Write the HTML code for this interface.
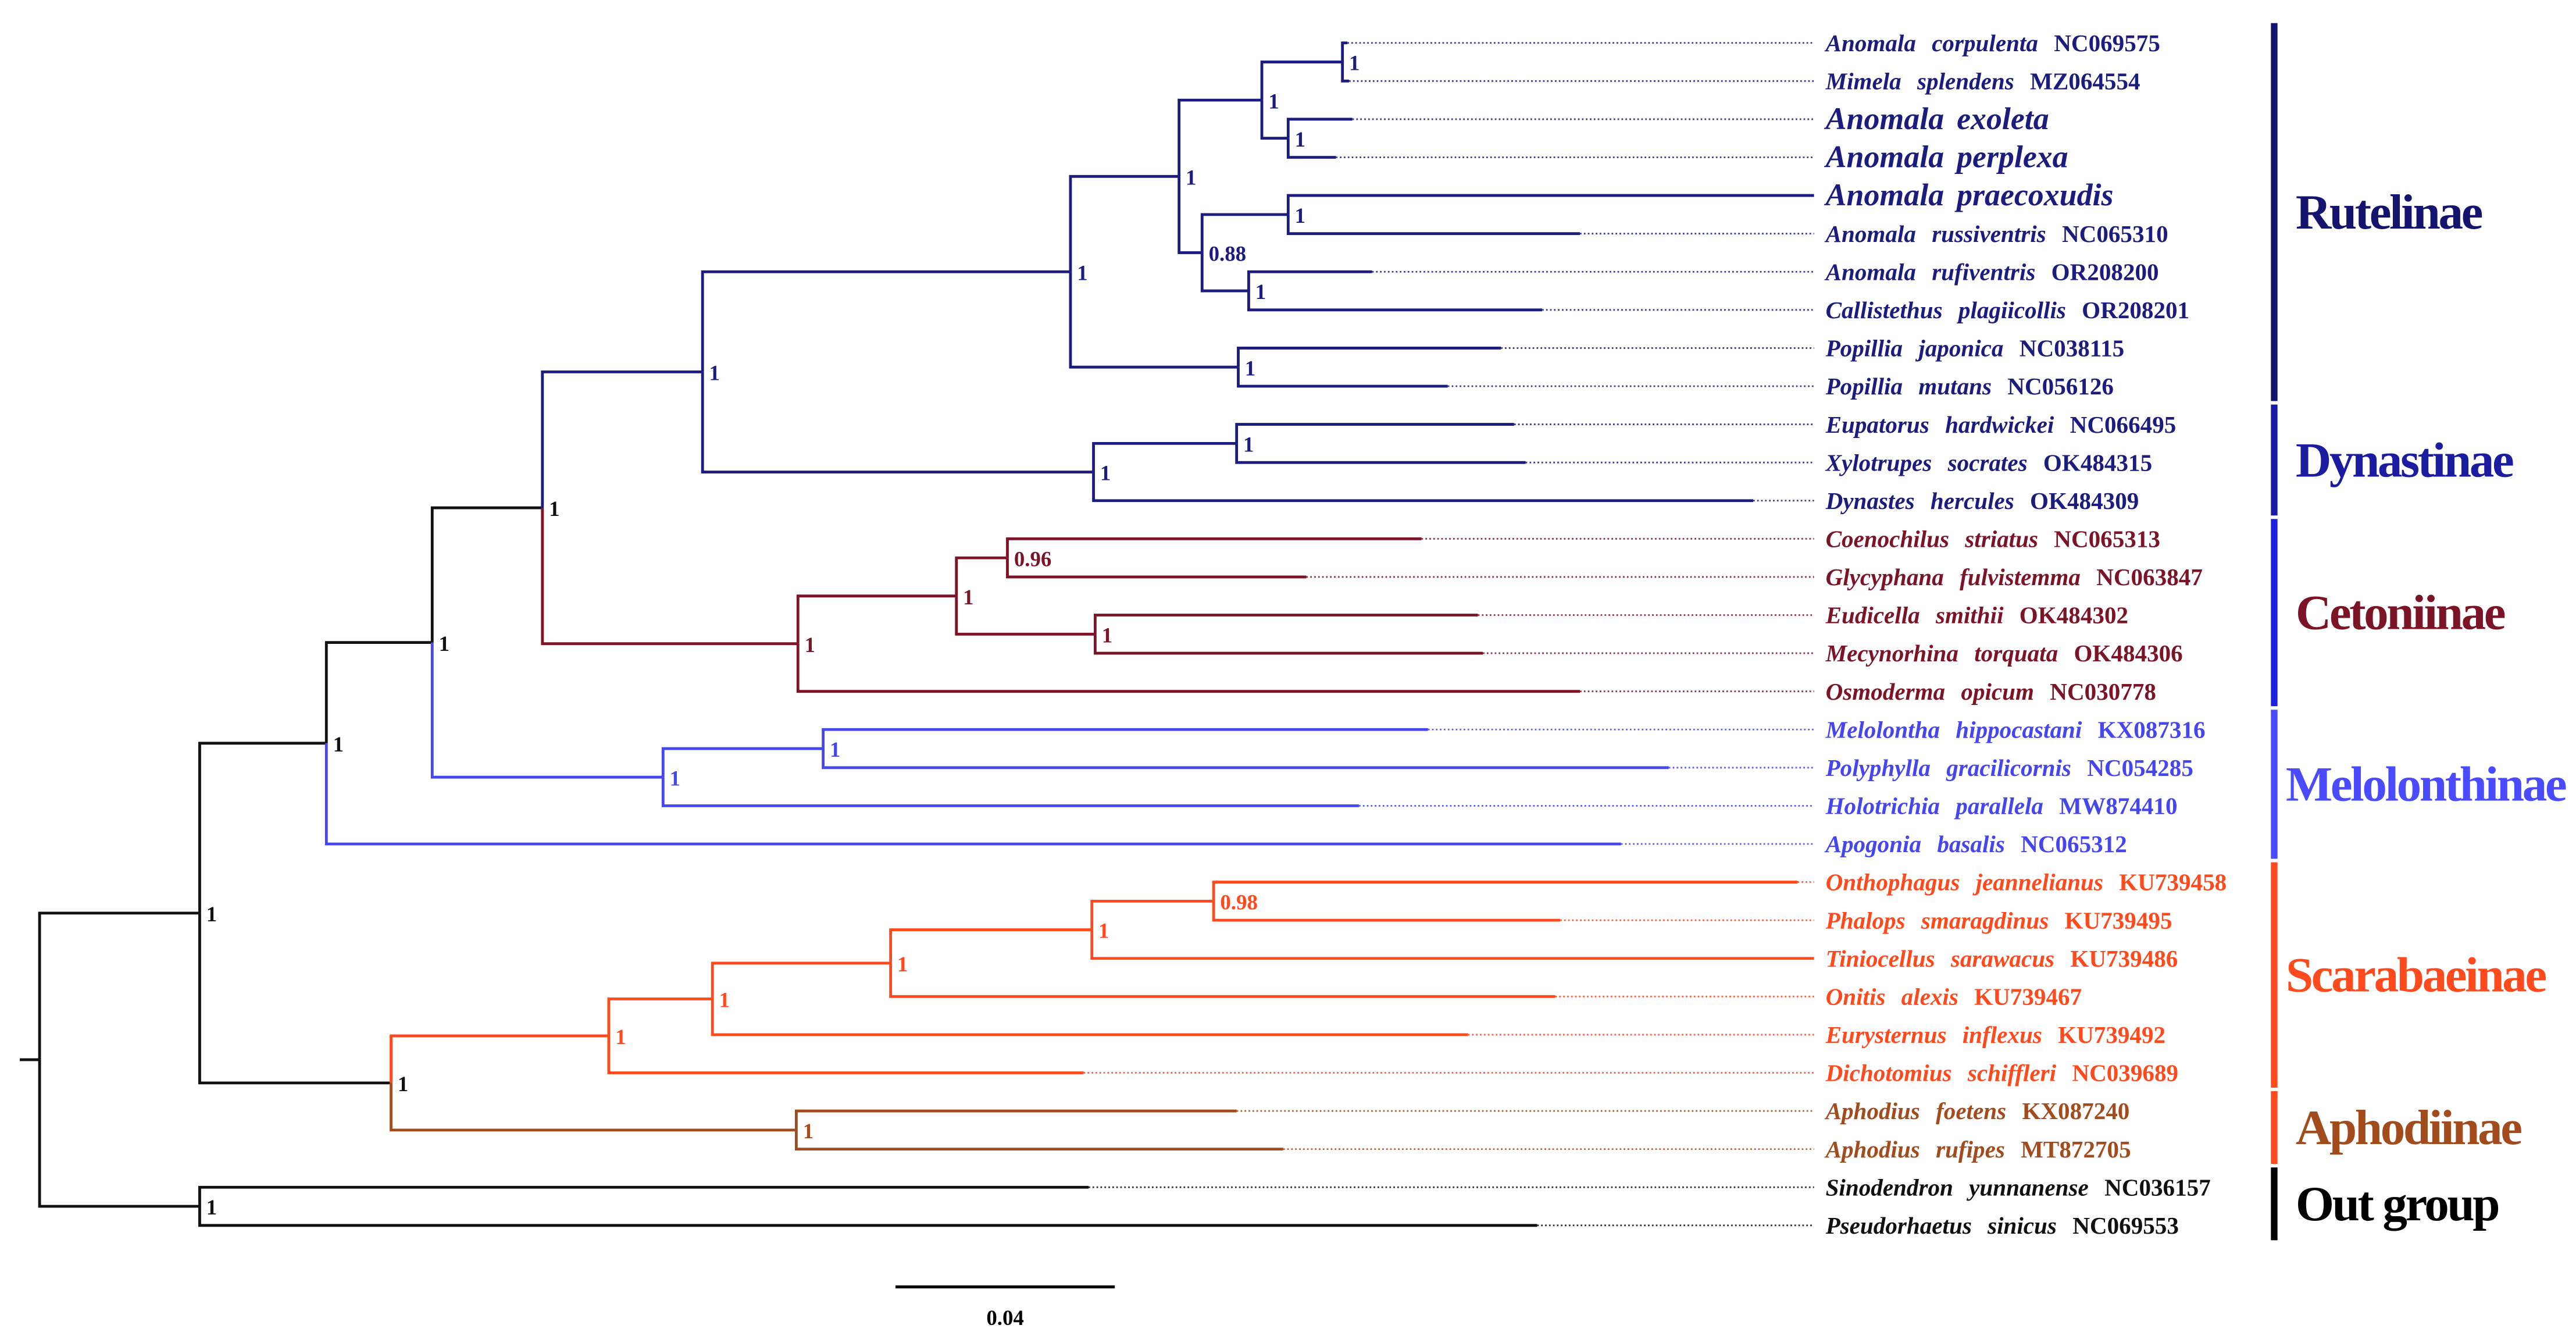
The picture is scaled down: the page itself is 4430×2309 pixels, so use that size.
<!DOCTYPE html>
<html><head><meta charset="utf-8"><style>
html,body{margin:0;padding:0;background:#fff;}
svg{display:block;}
</style></head><body>
<svg id="chart" width="4430" height="2309" viewBox="0 0 1562 814" preserveAspectRatio="none" xmlns="http://www.w3.org/2000/svg">
<g id="tree"></g>
<g id="labels"></g>
<g id="clades"></g>
<g>
<line id="sbar" stroke="#000" stroke-width="1.8"/>
<text id="stext" text-anchor="middle" font-family="Liberation Serif, serif" font-weight="bold" font-size="13" fill="#000">0.04</text>
</g>
</svg>
<script>
const leafNames = ["Anomala corpulenta","Mimela splendens","Anomala exoleta","Anomala perplexa","Anomala praecoxudis","Anomala russiventris","Anomala rufiventris","Callistethus plagiicollis","Popillia japonica","Popillia mutans","Eupatorus hardwickei","Xylotrupes socrates","Dynastes hercules","Coenochilus striatus","Glycyphana fulvistemma","Eudicella smithii","Mecynorhina torquata","Osmoderma opicum","Melolontha hippocastani","Polyphylla gracilicornis","Holotrichia parallela","Apogonia basalis","Onthophagus jeannelianus","Phalops smaragdinus","Tiniocellus sarawacus","Onitis alexis","Eurysternus inflexus","Dichotomius schiffleri","Aphodius foetens","Aphodius rufipes","Sinodendron yunnanense","Pseudorhaetus sinicus"];
const leafAccessions = ["NC069575","MZ064554","","","","NC065310","OR208200","OR208201","NC038115","NC056126","NC066495","OK484315","OK484309","NC065313","NC063847","OK484302","OK484306","NC030778","KX087316","NC054285","MW874410","NC065312","KU739458","KU739495","KU739486","KU739467","KU739492","NC039689","KX087240","MT872705","NC036157","NC069553"];
const leafDepths = [0.2385,0.2388,0.2394,0.2364,0.3236,0.2809,0.2430,0.2740,0.2665,0.2568,0.2689,0.2710,0.3125,0.2520,0.2310,0.2623,0.2632,0.2809,0.2532,0.2971,0.2406,0.2884,0.3206,0.2773,0.3236,0.2764,0.2605,0.1904,0.2183,0.2268,0.1913,0.2731];
const leafGroups = ["rut","rut","rut","rut","rut","rut","rut","rut","rut","rut","rut","rut","rut","cet","cet","cet","cet","cet","mel","mel","mel","mel","sca","sca","sca","sca","sca","sca","aph","aph","k","k"];
const nodeDepths = [0,0.0292,0.0523,0.0716,0.0917,0.1209,0.1880,0.2078,0.2229,0.2376,0.2277,0.2120,0.2277,0.2205,0.2186,0.1922,0.2183,0.1383,0.1672,0.1765,0.1925,0.1137,0.1429,0.0641,0.1038,0.1227,0.1552,0.1919,0.2141,0.1380,0.0292];
const nodeChildren = [["N1","N30"],["N2","N23"],["N3","L21"],["N4","N21"],["N5","N17"],["N6","N15"],["N7","N14"],["N8","N11"],["N9","N10"],["L0","L1"],["L2","L3"],["N12","N13"],["L4","L5"],["L6","L7"],["L8","L9"],["N16","L12"],["L10","L11"],["N18","L17"],["N19","N20"],["L13","L14"],["L15","L16"],["N22","L20"],["L18","L19"],["N24","N29"],["N25","L27"],["N26","L26"],["N27","L25"],["N28","L24"],["L22","L23"],["L28","L29"],["L30","L31"]];
const nodeLabels = ["","1","1","1","1","1","1","1","1","1","1","0.88","1","1","1","1","1","1","1","0.96","1","1","1","1","1","1","1","1","0.98","1","1"];
const nodeGroups = ["k","k","k","k","k","rut","rut","rut","rut","rut","rut","rut","rut","rut","rut","rut","rut","cet","cet","cet","cet","mel","mel","k","sca","sca","sca","sca","sca","aph","k"];
const cladeNames = ["Rutelinae","Dynastinae","Cetoniinae","Melolonthinae","Scarabaeinae","Aphodiinae","Out group"];
const cladeFirstLeaf = [0,10,13,18,22,28,30];
const cladeLastLeaf = [9,12,17,21,27,29,31];
const scaleValue = 0.04;

const colors = {k:"#111",rut:"#1c1c7e",cet:"#7c1428",mel:"#4646ee",sca:"#ff4a1e",aph:"#a24c1e"};
const barColors = ["#14146e","#1a1aa8","#1f1fe0","#4a4aff","#ff4a1e","#ff4a1e","#000"];
const labelColors = ["#14146e","#1c1ca0","#7c1428","#4a4aff","#ff4a1e","#a24c1e","#000"];
const X0 = 24, PX_PER_UNIT = 133/0.04, TIP_END = 1100, LABEL_X = 1107;
const xs = d => X0 + d*PX_PER_UNIT;
const ys = i => 26 + i*23.12;
const NS = "http://www.w3.org/2000/svg";
const tree = document.getElementById('tree');
const labels = document.getElementById('labels');
const clades = document.getElementById('clades');
function mk(tag, parent, attrs){const e=document.createElementNS(NS,tag);for(const k in attrs)e.setAttribute(k,attrs[k]);parent.appendChild(e);return e;}

const nodeY = [];
function getY(id){
  const i = +id.slice(1);
  if(id[0]==='L') return ys(i);
  if(nodeY[i]!==undefined) return nodeY[i];
  const c = nodeChildren[i].map(getY);
  nodeY[i] = (c[0]+c[1])/2;
  return nodeY[i];
}
getY("N0");

const stub = mk('line',tree,{x1:12,x2:xs(0),y1:nodeY[0],y2:nodeY[0],stroke:"#111","stroke-width":1.7});



nodeChildren.forEach((ch,i)=>{
  const px = xs(nodeDepths[i]), py = nodeY[i];
  ch.forEach(id=>{
    const j = +id.slice(1), isLeaf = id[0]==='L';
    const cx = xs(isLeaf?leafDepths[j]:nodeDepths[j]);
    const cy = getY(id);
    const col = colors[isLeaf?leafGroups[j]:nodeGroups[j]];
    const p = mk('path',tree,{d:`M${px},${py}V${cy}H${cx}`,fill:"none",stroke:col,"stroke-width":1.7});
    
    
    if(isLeaf && cx < TIP_END-1){
      const d = mk('line',tree,{x1:cx,x2:TIP_END,y1:cy,y2:cy,stroke:col,"stroke-width":1,"stroke-dasharray":"1 1.4","opacity":0.85});
      
      
    }
  });
  if(nodeLabels[i]){
    const t = mk('text',labels,{x:px+4,y:py+5,"font-family":"Liberation Serif, serif","font-weight":"bold","font-size":13,fill:colors[nodeGroups[i]]});
    t.textContent = nodeLabels[i];
    
    
  }
});

leafNames.forEach((n,i)=>{
  const big = leafAccessions[i]==="";
  const t = mk('text',labels,{x:LABEL_X,y:ys(i)+(big?6:5),"font-family":"Liberation Serif, serif","font-weight":"bold","font-size":big?19:14.5,fill:colors[leafGroups[i]],"word-spacing":big?3:6});
  const s1 = mk('tspan',t,{"font-style":"italic"});
  s1.textContent = n;
  if(!big){const s2 = mk('tspan',t,{}); s2.textContent = " " + leafAccessions[i];}
  
  
});

cladeNames.forEach((c,i)=>{
  const y1 = ys(cladeFirstLeaf[i])-12, y2 = ys(cladeLastLeaf[i])+9;
  const r = mk('rect',clades,{x:1377,y:y1,width:4,height:y2-y1,fill:barColors[i]});
  
  
  const t = mk('text',clades,{x:i===3||i===4?1386:1392,y:(y1+y2)/2+10,"font-family":"Liberation Serif, serif","font-weight":"bold","font-size":30,fill:labelColors[i],"letter-spacing":-1.2});
  t.textContent = c;
  
  
});

const sb = document.getElementById('sbar');
sb.setAttribute('x1',543); sb.setAttribute('x2',543+scaleValue*PX_PER_UNIT);
sb.setAttribute('y1',780); sb.setAttribute('y2',780);
const st = document.getElementById('stext');
st.setAttribute('x',543+scaleValue*PX_PER_UNIT/2); st.setAttribute('y',803);
</script>
</body></html>
